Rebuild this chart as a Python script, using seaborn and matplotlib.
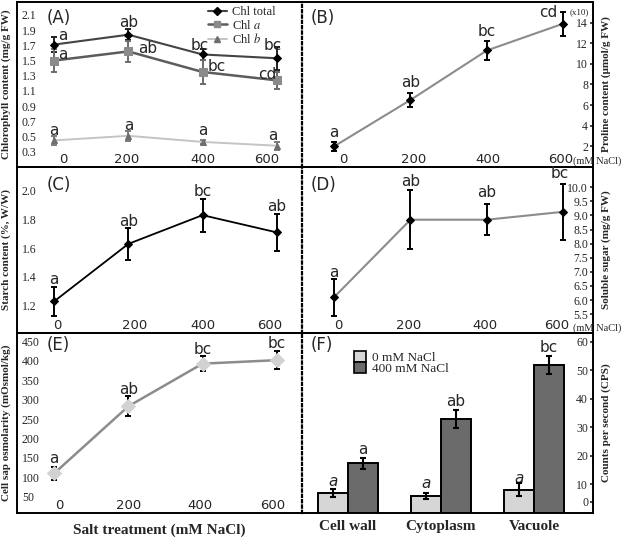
import numpy as np
import pandas as pd
import matplotlib
matplotlib.use('Agg')
import matplotlib.pyplot as plt
from matplotlib.lines import Line2D
from matplotlib.patches import Patch
import seaborn as sns

# ---- data ----
salt_levels = ['0', '200', '400', '600']

chl_total = [1.71, 1.84, 1.58, 1.53]
chl_total_err = [0.10, 0.07, 0.07, 0.15]
chl_a = [1.50, 1.62, 1.35, 1.24]
chl_a_err = [0.15, 0.14, 0.16, 0.11]
chl_b = [0.45, 0.51, 0.43, 0.38]
chl_b_err = [0.06, 0.07, 0.03, 0.05]
chl_total_letters = ['a', 'ab', 'bc', 'bc']
chl_a_letters = ['a', 'ab', 'bc', 'cd']
chl_b_letters = ['a', 'a', 'a', 'a']

proline = [2.0, 6.5, 11.3, 13.9]
proline_err = [0.4, 0.7, 0.9, 1.15]
proline_letters = ['a', 'ab', 'bc', 'cd']

starch = [1.23, 1.63, 1.83, 1.71]
starch_err = [0.10, 0.11, 0.115, 0.13]
starch_letters = ['a', 'ab', 'bc', 'ab']

sugar = [6.1, 8.85, 8.85, 9.13]
sugar_err = [0.65, 1.05, 0.56, 1.0]
sugar_letters = ['a', 'ab', 'ab', 'bc']

osmol = [110, 283, 393, 402]
osmol_err = [16, 26, 19, 24]
osmol_letters = ['a', 'ab', 'bc', 'bc']

compartments = ['Cell wall', 'Cytoplasm', 'Vacuole']
treatments = ['0 mM NaCl', '400 mM NaCl']
cps_0 = [7.0, 6.0, 8.2]
cps_0_err = [1.3, 1.0, 2.4]
cps_400 = [17.4, 32.8, 51.7]
cps_400_err = [1.9, 3.2, 3.2]
cps_0_letters = ['a', 'a', 'a']
cps_400_letters = ['a', 'ab', 'bc']

# ---- style ----
sns.set_style('white')
plt.rcParams['font.family'] = ['Liberation Serif', 'DejaVu Serif']
plt.rcParams['mathtext.fontset'] = 'stix'
SANS = 'DejaVu Sans'

W, H = 625, 537
fig = plt.figure(figsize=(W / 100, H / 100), dpi=100)


def rect(x0, y0, x1, y1):
    return [x0 / W, 1 - y1 / H, (x1 - x0) / W, (y1 - y0) / H]


def pt(v):
    # pixel offset -> points
    return v * 72 / 100


axA = fig.add_axes(rect(17, 2, 302, 167))
axB = fig.add_axes(rect(302, 2, 593, 167))
axC = fig.add_axes(rect(17, 167, 302, 333))
axD = fig.add_axes(rect(302, 167, 593, 333))
axE = fig.add_axes(rect(17, 333, 302, 513))
axF = fig.add_axes(rect(302, 333, 593, 513))

positions = np.arange(len(salt_levels))


def frame(ax, side):
    ax.set_facecolor('none')
    for s in ax.spines.values():
        s.set_color('black')
        s.set_linewidth(1.4)
    if side == 'left':
        ax.spines['right'].set_linestyle((0, (1.0, 1.4)))
        ax.spines['right'].set_linewidth(1.6)
    else:
        ax.spines['left'].set_visible(False)


def style_y(ax, side, ylim, ticks, labels, ylabel):
    ax.set_ylim(*ylim)
    if side == 'right':
        ax.yaxis.tick_right()
        ax.yaxis.set_label_position('right')
    ax.set_yticks(ticks, labels)
    ax.tick_params(axis='y', direction='in', length=2.5, width=1.2, pad=-3.5, labelsize=8.5)
    plt.setp(ax.get_yticklabels(), ha='left' if side == 'left' else 'right')
    ax.set_ylabel(ylabel, fontsize=8, fontweight='bold',
                  labelpad=4 if side == 'left' else 6)


def style_x_salt(ax, xlim, label_pos):
    ax.set_xlim(*xlim)
    ax.set_xticks([0.5, 1.5, 2.5], ['', '', ''])
    ax.set_xticks(label_pos, salt_levels, minor=True)
    ax.tick_params(axis='x', which='major', direction='in', length=5, width=1.5, top=False)
    ax.tick_params(axis='x', which='minor', length=0, pad=-1, labelsize=9.5,
                   labelfontfamily=SANS)
    plt.setp(ax.get_xticklabels(minor=True), va='bottom')
    ax.set_xlabel('')


def series(ax, means, errs, line_color, face, ms, lw, marker='D', err_color='black'):
    sns.lineplot(x=positions, y=means, ax=ax, color=line_color, linewidth=lw,
                 marker=marker, markersize=ms, markerfacecolor=face,
                 markeredgecolor=face, errorbar=None, legend=False, zorder=3)
    ax.errorbar(positions, means, yerr=errs, fmt='none', ecolor=err_color,
                elinewidth=1.4, capsize=2.5, capthick=1.4, zorder=2)


def letters(ax, xs, ys, labels, offsets, **kw):
    for x, y, s, (dx, dy) in zip(xs, ys, labels, offsets):
        ax.annotate(s, (x, y), xytext=(pt(dx), pt(dy)), textcoords='offset points',
                    ha='center', va='center', fontsize=11, family=SANS, **kw)


def panel_tag(ax, tag, x, y):
    ax.text(x, y, tag, transform=ax.transAxes, fontsize=12, family=SANS,
            ha='left', va='center')


LEFT_XLIM = (-0.5, 3.34)
RIGHT_XLIM = (-0.42, 3.39)

# ---- (A) chlorophyll ----
frame(axA, 'left')
series(axA, chl_total, chl_total_err, '#444444', 'black', 4, 1.5, err_color='#222222')
series(axA, chl_a, chl_a_err, '#5c5c5c', '#8a8a8a', 5.5, 1.8, marker='s', err_color='#6a6a6a')
series(axA, chl_b, chl_b_err, '#c4c4c4', '#6e6e6e', 5, 1.4, marker='^', err_color='#7a7a7a')
style_x_salt(axA, LEFT_XLIM, [0.12, 0.98, 2.0, 2.87])
style_y(axA, 'left', (0.1, 2.27),
        [0.3, 0.5, 0.7, 0.9, 1.1, 1.3, 1.5, 1.7, 1.9, 2.1],
        ['0.3', '0.5', '0.7', '0.9', '1.1', '1.3', '1.5', '1.7', '1.9', '2.1'],
        'Chlorophyll content (mg/g FW)')
letters(axA, positions, chl_total, chl_total_letters, [(9, 9), (0, 12), (-3, 9), (-4, 13)])
letters(axA, positions, chl_a, chl_a_letters, [(9, 6), (19, 3), (14, 5), (-10, 6)])
letters(axA, positions, chl_b, chl_b_letters, [(0, 10), (0, 10), (0, 11), (-4, 10)])
handles = [
    Line2D([], [], color='#444444', lw=1.5, marker='D', ms=4, mfc='black', mec='black'),
    Line2D([], [], color='#5c5c5c', lw=1.8, marker='s', ms=5, mfc='#8a8a8a', mec='#8a8a8a'),
    Line2D([], [], color='#c4c4c4', lw=1.4, marker='^', ms=5, mfc='#6e6e6e', mec='#6e6e6e'),
]
axA.legend(handles, ['Chl total', 'Chl $\\mathit{a}$', 'Chl $\\mathit{b}$'],
           loc='upper left', bbox_to_anchor=(0.67, 0.975), frameon=False,
           fontsize=9, handlelength=1.5, handletextpad=0.4, labelspacing=0.05,
           borderpad=0, borderaxespad=0)
panel_tag(axA, '(A)', 0.105, 0.9)

# ---- (B) proline ----
frame(axB, 'right')
series(axB, proline, proline_err, '#8c8c8c', 'black', 4.5, 1.5)
style_x_salt(axB, RIGHT_XLIM, [0.12, 1.04, 2.02, 2.97])
style_y(axB, 'right', (0, 16), [2, 4, 6, 8, 10, 12, 14],
        ['2', '4', '6', '8', '10', '12', '14'], 'Proline content (\u03bcmol/g FW)')
letters(axB, positions, proline, proline_letters, [(0, 14), (0, 17), (0, 19), (-15, 11)])
axB.text(0.918, 0.94, '(x10)', transform=axB.transAxes, fontsize=6.5, ha='left', va='center')
axB.text(0.93, 0.036, '(mM NaCl)', transform=axB.transAxes, fontsize=7.5,
         ha='left', va='center', clip_on=False)
panel_tag(axB, '(B)', 0.03, 0.9)

# ---- (C) starch ----
frame(axC, 'left')
series(axC, starch, starch_err, 'black', 'black', 4.5, 1.3)
style_x_salt(axC, LEFT_XLIM, [0.04, 1.09, 2.0, 2.9])
style_y(axC, 'left', (1.01, 2.165), [1.2, 1.4, 1.6, 1.8, 2.0],
        ['1.2', '1.4', '1.6', '1.8', '2.0'], 'Starch content (%, W/W)')
letters(axC, positions, starch, starch_letters, [(0, 22), (0, 22), (0, 24), (0, 26)])
panel_tag(axC, '(C)', 0.105, 0.89)

# ---- (D) soluble sugar ----
frame(axD, 'right')
series(axD, sugar, sugar_err, '#8c8c8c', 'black', 4.5, 1.5)
style_x_salt(axD, RIGHT_XLIM, [0.05, 0.97, 1.98, 2.92])
style_y(axD, 'right', (4.83, 10.72),
        [5.5, 6.0, 6.5, 7.0, 7.5, 8.0, 8.5, 9.0, 9.5, 10.0],
        ['5.5', '6.0', '6.5', '7.0', '7.5', '8.0', '8.5', '9.0', '9.5', '10.0'],
        'Soluble sugar (mg/g FW)')
letters(axD, positions, sugar, sugar_letters, [(0, 25), (0, 38), (0, 27), (-3, 38)])
axD.text(0.93, 0.03, '(mM NaCl)', transform=axD.transAxes, fontsize=7.5,
         ha='left', va='center', clip_on=False)
panel_tag(axD, '(D)', 0.03, 0.89)

# ---- (E) osmolarity ----
frame(axE, 'left')
series(axE, osmol, osmol_err, '#8c8c8c', '#d2d2d2', 7.5, 1.8)
style_x_salt(axE, LEFT_XLIM, [0.07, 1.0, 1.97, 2.95])
style_y(axE, 'left', (8, 472), [50, 100, 150, 200, 250, 300, 350, 400, 450],
        ['50', '100', '150', '200', '250', '300', '350', '400', '450'],
        'Cell sap osmolarity (mOsmol/kg)')
letters(axE, positions, osmol, osmol_letters, [(0, 15), (0, 17), (0, 14), (0, 17)])
axE.set_xlabel('Salt treatment (mM NaCl)', fontsize=11, fontweight='bold', labelpad=4)
panel_tag(axE, '(E)', 0.105, 0.933)

# ---- (F) Na counts ----
frame(axF, 'right')
df_cps = pd.DataFrame({
    'compartment': compartments * 2,
    'treatment': [treatments[0]] * 3 + [treatments[1]] * 3,
    'cps': cps_0 + cps_400,
})
sns.barplot(data=df_cps, x='compartment', y='cps', hue='treatment',
            order=compartments, hue_order=treatments,
            palette=['#d6d6d6', '#6b6b6b'], width=0.64, edgecolor='black',
            linewidth=1.4, errorbar=None, legend=False, ax=axF)
bars = sorted(axF.patches, key=lambda p: p.get_x())
centers = [b.get_x() + b.get_width() / 2 for b in bars]
x0 = centers[0::2]
x4 = centers[1::2]
axF.errorbar(x0, cps_0, yerr=cps_0_err, fmt='none', ecolor='black',
             elinewidth=1.5, capsize=2.5, capthick=1.5, zorder=4)
axF.errorbar(x4, cps_400, yerr=cps_400_err, fmt='none', ecolor='black',
             elinewidth=1.5, capsize=2.5, capthick=1.5, zorder=4)
letters(axF, x0, cps_0, cps_0_letters, [(0, 11), (0, 12), (0, 11)], style='italic')
letters(axF, x4, cps_400, cps_400_letters, [(0, 14), (0, 18), (0, 18)])
axF.set_xlim(-0.49, 2.63)
axF.set_xticks([0, 1, 2], compartments)
axF.set_xticks([0.5, 1.5], minor=True)
axF.tick_params(axis='x', which='major', length=0, pad=5, labelsize=11)
axF.tick_params(axis='x', which='minor', direction='in', length=5, width=1.5)
plt.setp(axF.get_xticklabels(), fontweight='bold')
axF.set_xlabel('')
style_y(axF, 'right', (0, 63), [3.9, 10, 20, 30, 40, 50, 60],
        ['0', '10', '20', '30', '40', '50', '60'], 'Counts per second (CPS)')
axF.legend([Patch(facecolor='#d6d6d6', edgecolor='black', lw=1.2),
            Patch(facecolor='#6b6b6b', edgecolor='black', lw=1.2)], treatments,
           loc='upper left', bbox_to_anchor=(0.18, 0.9), frameon=False,
           fontsize=9.5, handlelength=0.9, handleheight=0.9, handletextpad=0.4,
           labelspacing=-0.15, borderpad=0, borderaxespad=0)
panel_tag(axF, '(F)', 0.03, 0.933)

fig.savefig('out.png', dpi=100)
